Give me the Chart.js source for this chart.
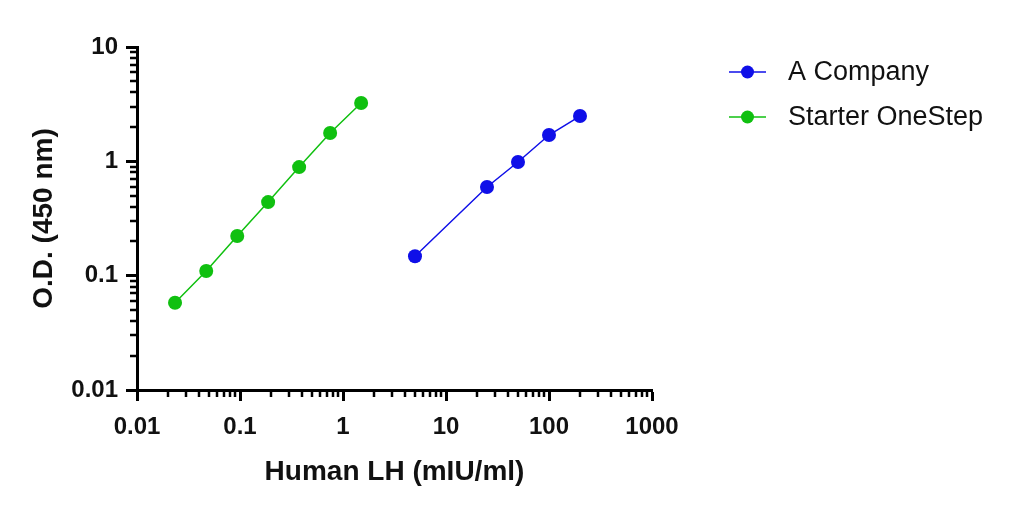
<!DOCTYPE html>
<html>
<head>
<meta charset="utf-8">
<script src="https://cdn.jsdelivr.net/npm/chart.js@4.4.1/dist/chart.umd.min.js"></script>
<style>
  html, body { margin: 0; padding: 0; background: #fff; }
  #wrap { width: 1013px; height: 507px; position: relative; }
</style>
</head>
<body>
<div id="wrap"><canvas id="lhChart"></canvas></div>
<script>
// values (log-log)
const companyDose = [5, 25, 50, 100, 200];
const companyOD = [0.148, 0.596, 0.986, 1.70, 2.49];

const starterDose = [0.0234, 0.047, 0.094, 0.1875, 0.375, 0.75, 1.5];
const starterOD = [0.058, 0.11, 0.222, 0.44, 0.89, 1.77, 3.24];

const xTicks = [0.01, 0.1, 1, 10, 100, 1000];
const yTicks = [0.01, 0.1, 1, 10];

const seriesNames = ["A Company", "Starter OneStep"];
const seriesColors = ["#0f0fe8", "#10c010"];

const FONT = "'Liberation Sans', Arial, sans-serif";

function toPoints(xs, ys) {
  return xs.map((x, i) => ({ x, y: ys[i] }));
}

// minor tick marks between decades (2..9), shorter than the major ones
const minorTicks = {
  id: "minorTicks",
  afterDraw(chart) {
    const ctx = chart.ctx;
    const xs = chart.scales.x;
    const ys = chart.scales.y;
    ctx.save();
    ctx.strokeStyle = "#000";
    ctx.lineWidth = 2.5;
    ctx.beginPath();
    for (let d = 0; d < xTicks.length - 1; d++) {
      for (let m = 2; m <= 9; m++) {
        const px = Math.round(xs.getPixelForValue(xTicks[d] * m));
        ctx.moveTo(px, xs.top);
        ctx.lineTo(px, xs.top + 7);
      }
    }
    for (let d = 0; d < yTicks.length - 1; d++) {
      for (let m = 2; m <= 9; m++) {
        const py = Math.round(ys.getPixelForValue(yTicks[d] * m));
        ctx.moveTo(ys.right, py);
        ctx.lineTo(ys.right - 7, py);
      }
    }
    ctx.stroke();
    ctx.restore();
  },
};

// legend drawn as line + marker, like the original
const lineLegend = {
  id: "lineLegend",
  afterDraw(chart) {
    const ctx = chart.ctx;
    ctx.save();
    ctx.font = "27px " + FONT;
    ctx.textBaseline = "middle";
    chart.data.datasets.forEach((ds, i) => {
      const y = 72 + i * 45;
      ctx.strokeStyle = ds.borderColor;
      ctx.lineWidth = 1.5;
      ctx.beginPath();
      ctx.moveTo(729, y);
      ctx.lineTo(766, y);
      ctx.stroke();
      ctx.fillStyle = ds.backgroundColor;
      ctx.beginPath();
      ctx.arc(747.5, y, 6.5, 0, Math.PI * 2);
      ctx.fill();
      ctx.fillStyle = "#111";
      ctx.fillText(ds.label, 788, y + 1);
    });
    ctx.restore();
  },
};

function logScale(min, max, ticks, title, isX) {
  return {
    type: "logarithmic",
    min,
    max,
    afterBuildTicks: (scale) => {
      scale.ticks = ticks.map((v) => ({ value: v, major: true }));
    },
    afterFit: (scale) => {
      if (isX) scale.height = 103;
      else scale.width = 114;
    },
    border: { color: "#000", width: 3 },
    grid: {
      drawOnChartArea: false,
      drawTicks: true,
      tickLength: 11,
      tickColor: "#000",
      tickWidth: 3,
    },
    ticks: {
      color: "#111",
      font: { family: FONT, size: 24, weight: "bold" },
      padding: isX ? 12 : 8,
      autoSkip: false,
      maxRotation: 0,
      callback: (v) => String(v),
    },
    title: {
      display: true,
      text: title,
      color: "#111",
      font: { family: FONT, size: 28, weight: "bold" },
      padding: isX ? { top: 12 } : { bottom: 14 },
    },
  };
}

new Chart(document.getElementById("lhChart"), {
  type: "line",
  data: {
    datasets: [
      {
        label: seriesNames[0],
        data: toPoints(companyDose, companyOD),
        borderColor: seriesColors[0],
        backgroundColor: seriesColors[0],
        borderWidth: 1.5,
        pointRadius: 7,
        pointBorderWidth: 0,
        tension: 0,
      },
      {
        label: seriesNames[1],
        data: toPoints(starterDose, starterOD),
        borderColor: seriesColors[1],
        backgroundColor: seriesColors[1],
        borderWidth: 1.5,
        pointRadius: 7,
        pointBorderWidth: 0,
        tension: 0,
      },
    ],
  },
  options: {
    responsive: true,
    maintainAspectRatio: false,
    animation: false,
    layout: { padding: { top: 47, right: 361, left: 23, bottom: 14 } },
    plugins: {
      legend: { display: false },
      tooltip: { enabled: false },
    },
    scales: {
      x: logScale(0.01, 1000, xTicks, "Human LH (mIU/ml)", true),
      y: logScale(0.01, 10, yTicks, "O.D. (450 nm)", false),
    },
  },
  plugins: [minorTicks, lineLegend],
});
</script>
</body>
</html>
